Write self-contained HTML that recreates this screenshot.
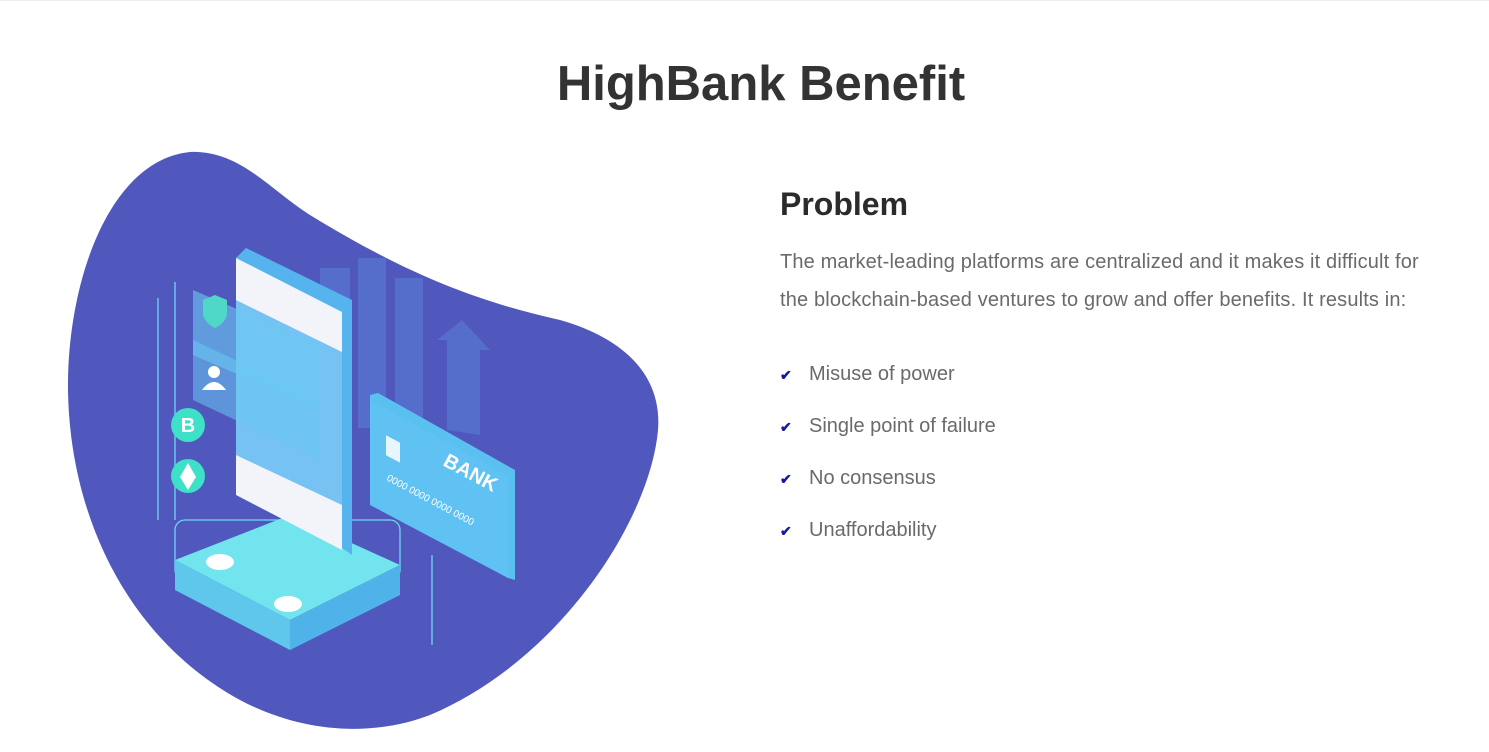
<!DOCTYPE html>
<html><head><meta charset="utf-8"><style>
html,body{margin:0;padding:0;background:#fff;width:1489px;height:752px;overflow:hidden;font-family:"Liberation Sans",sans-serif}
.top{position:absolute;left:0;top:0;width:1489px;height:1px;background:#eee}
h1{position:absolute;left:0;width:1522px;text-align:center;top:54px;margin:0;font-size:49px;font-weight:bold;color:#333;line-height:60px}
h2{position:absolute;left:780px;top:184px;margin:0;font-size:32px;font-weight:bold;color:#2b2b2b;line-height:40px}
p{position:absolute;left:780px;top:243px;margin:0;font-size:20px;line-height:38px;color:#6a6a6a;width:668px;letter-spacing:0.15px}
.li{position:absolute;left:780px;font-size:20px;color:#6a6a6a;line-height:24px}
.li span{display:inline-block;width:29px;color:#1616a0;font-size:14px;font-weight:bold}
svg{position:absolute;left:0;top:0}
</style></head><body>
<div class="top"></div>
<svg width="760" height="752" viewBox="0 0 760 752">
<path d="M190,152 C240,150 270,190 310,215 C400,270 470,300 560,320 C630,340 662,380 658,430 C650,520 560,660 430,715 C370,738 300,732 240,700 C130,640 70,520 68,390 C67,280 110,160 190,152 Z" fill="#5057bd"/>
<g opacity="0.55" fill="#5a7fd8"><rect x="320" y="268" width="30" height="150"/><rect x="358" y="258" width="28" height="170"/><rect x="395" y="278" width="28" height="160"/><polygon points="437,340 462,320 490,350 480,350 480,435 447,430 447,340"/></g>
<g stroke="#6fd8f0" stroke-width="1.3" fill="none"><polyline points="175,282 175,520"/><polyline points="158,298 158,520"/><polyline points="432,555 432,645"/><rect x="175" y="520" width="225" height="60" rx="10"/></g>
<polygon points="175,560 290,515 400,565 290,620" fill="#72e4ee"/>
<polygon points="175,560 175,590 290,650 290,620" fill="#5fc6ec"/>
<polygon points="400,565 400,595 290,650 290,620" fill="#4fb2e8"/>
<ellipse cx="220" cy="562" rx="14" ry="8" fill="#fff"/><ellipse cx="288" cy="604" rx="14" ry="8" fill="#fff"/>
<polygon points="236,258 246,248 352,300 352,555 342,548" fill="#55b4ee"/>
<polygon points="236,258 342,312 342,550 236,495" fill="#f3f3fa"/>
<polygon points="236,300 342,352 342,505 236,455" fill="#5fb8f0" opacity="0.85"/>
<polygon points="193,290 320,345 320,410 193,355" fill="#6ac8f2" opacity="0.6"/>
<polygon points="193,340 320,400 320,460 193,400" fill="#6ac8f2" opacity="0.55"/>
<path d="M203,300 l12,-5 12,5 v12 q0,10 -12,16 q-12,-6 -12,-16z" fill="#4fd8c8"/>
<circle cx="214" cy="372" r="6" fill="#fff"/><path d="M202,390 q12,-16 24,0z" fill="#fff"/>
<circle cx="188" cy="425" r="17" fill="#3ee0c8"/><text x="188" y="432" font-size="20" font-weight="bold" text-anchor="middle" fill="#fff" font-family="Liberation Sans">B</text>
<circle cx="188" cy="476" r="17" fill="#3ee0c8"/><polygon points="188,463 196,477 188,490 180,477" fill="#fff"/>
<polygon points="370,395 378,393 515,470 515,580 508,578 370,500" fill="#5ac0f0"/>
<polygon points="370,400 508,476 508,578 370,505" fill="#5fc2f2"/>
<rect x="386" y="440" width="14" height="20" fill="#fff" opacity="0.85" transform="skewY(28) translate(0,-210)"/>
<text x="442" y="465" font-size="20" font-weight="bold" fill="#fff" transform="rotate(28 442 465)" font-family="Liberation Sans">BANK</text>
<text x="386" y="480" font-size="10" fill="#fff" transform="rotate(28 386 480)" font-family="Liberation Sans">0000 0000 0000 0000</text>
</svg>
<h1>HighBank Benefit</h1>
<h2>Problem</h2>
<p>The market-leading platforms are centralized and it makes it difficult for the blockchain-based ventures to grow and offer benefits. It results in:</p>
<div class="li" style="top:362px"><span>✔</span>Misuse of power</div>
<div class="li" style="top:414px"><span>✔</span>Single point of failure</div>
<div class="li" style="top:466px"><span>✔</span>No consensus</div>
<div class="li" style="top:518px"><span>✔</span>Unaffordability</div>
</body></html>
